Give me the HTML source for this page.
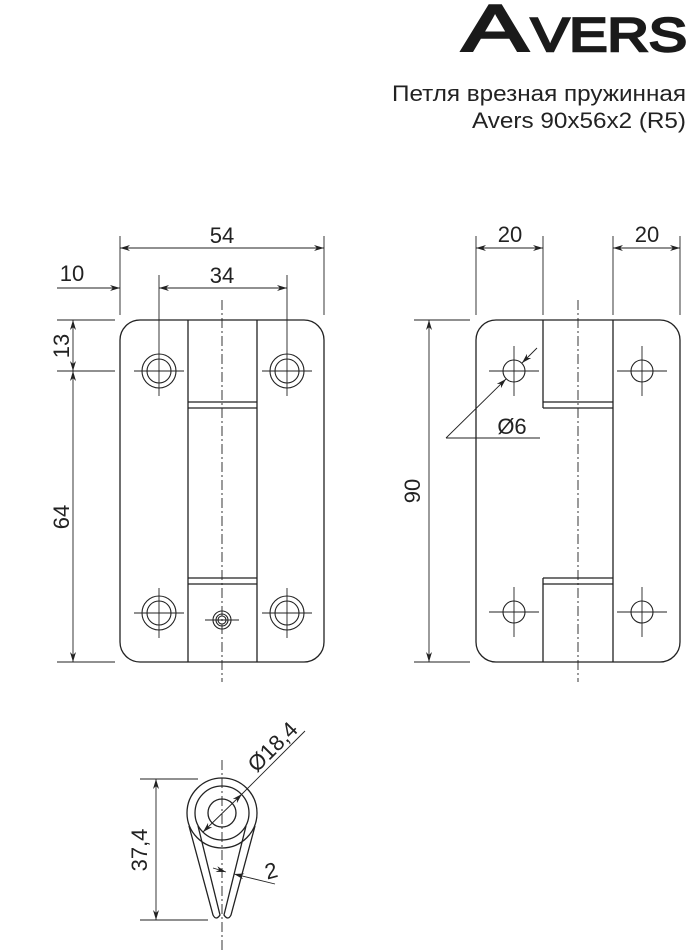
<!DOCTYPE html>
<html><head><meta charset="utf-8"><style>
html,body{margin:0;padding:0;background:#fff}
svg{display:block}
text{font-family:"Liberation Sans",sans-serif;fill:#222}
</style></head><body>
<svg width="698" height="952" viewBox="0 0 698 952" xmlns="http://www.w3.org/2000/svg">
<defs>
<marker id="a" viewBox="0 0 10 6" refX="10" refY="3" markerWidth="10" markerHeight="6" orient="auto-start-reverse" markerUnits="userSpaceOnUse">
<path d="M0,0 L10,3 L0,6 L3,3 Z" fill="#222"/></marker>
</defs>
<!-- logo -->
<text x="462" y="51" font-size="66" textLength="66" lengthAdjust="spacingAndGlyphs" style="fill:#1a1a1a;stroke:#1a1a1a;stroke-width:2.5">A</text>
<text x="531" y="51" font-size="47" textLength="156" lengthAdjust="spacingAndGlyphs" style="fill:#1a1a1a;stroke:#1a1a1a;stroke-width:2.5">VERS</text>
<text x="686" y="101" font-size="22" text-anchor="end" textLength="294" lengthAdjust="spacingAndGlyphs">Петля врезная пружинная</text>
<text x="686" y="128" font-size="22" text-anchor="end" textLength="214" lengthAdjust="spacingAndGlyphs">Avers 90x56x2 (R5)</text>

<g stroke="#222" stroke-width="1.3" fill="none">
<rect x="120" y="320" width="204" height="342" rx="20"/>
<line x1="188" y1="320" x2="188" y2="662"/>
<line x1="257" y1="320" x2="257" y2="662"/>
<line x1="188" y1="402" x2="257" y2="402"/><line x1="188" y1="408" x2="257" y2="408"/>
<line x1="188" y1="578" x2="257" y2="578"/><line x1="188" y1="584" x2="257" y2="584"/>
<line x1="222" y1="300" x2="222" y2="682" stroke-width="0.9" stroke-dasharray="10,3,2,3"/>
<g stroke-width="1.1">
<circle cx="159" cy="371" r="17"/><circle cx="159" cy="371" r="12"/>
<circle cx="287" cy="371" r="17"/><circle cx="287" cy="371" r="12"/>
<circle cx="159" cy="613" r="17"/><circle cx="159" cy="613" r="12"/>
<circle cx="287" cy="613" r="17"/><circle cx="287" cy="613" r="12"/>
<circle cx="222" cy="620" r="9"/><circle cx="222" cy="620" r="6"/><circle cx="222" cy="620" r="4"/>
</g>
<g stroke-width="0.9">
<line x1="134" y1="371" x2="184" y2="371"/><line x1="159" y1="275" x2="159" y2="396"/>
<line x1="262" y1="371" x2="312" y2="371"/><line x1="287" y1="275" x2="287" y2="396"/>
<line x1="134" y1="613" x2="184" y2="613"/><line x1="159" y1="588" x2="159" y2="638"/>
<line x1="262" y1="613" x2="312" y2="613"/><line x1="287" y1="588" x2="287" y2="638"/>
<line x1="205" y1="620" x2="239" y2="620"/>
<line x1="120" y1="236" x2="120" y2="315"/><line x1="324" y1="236" x2="324" y2="315"/>
<line x1="120" y1="248" x2="324" y2="248" marker-start="url(#a)" marker-end="url(#a)"/>
<line x1="57" y1="288" x2="120" y2="288" marker-end="url(#a)"/>
<line x1="159" y1="288" x2="287" y2="288" marker-start="url(#a)" marker-end="url(#a)"/>
<line x1="57" y1="320" x2="115" y2="320"/><line x1="57" y1="371" x2="115" y2="371"/><line x1="57" y1="662" x2="115" y2="662"/>
<line x1="73" y1="320" x2="73" y2="371" marker-start="url(#a)" marker-end="url(#a)"/>
<line x1="73" y1="371" x2="73" y2="662" marker-start="url(#a)" marker-end="url(#a)"/>
</g>

<rect x="476" y="320" width="204" height="342" rx="20"/>
<line x1="613" y1="320" x2="613" y2="662"/>
<line x1="543" y1="320" x2="543" y2="408"/>
<line x1="543" y1="402" x2="613" y2="402"/><line x1="543" y1="408" x2="613" y2="408"/>
<line x1="543" y1="578" x2="543" y2="662"/>
<line x1="543" y1="578" x2="613" y2="578"/><line x1="543" y1="584" x2="613" y2="584"/>
<line x1="578" y1="300" x2="578" y2="682" stroke-width="0.9" stroke-dasharray="10,3,2,3"/>
<g stroke-width="1.1">
<circle cx="514" cy="371" r="11"/><circle cx="642" cy="371" r="11"/>
<circle cx="514" cy="612" r="11"/><circle cx="642" cy="612" r="11"/>
</g>
<g stroke-width="0.9">
<line x1="489" y1="371" x2="539" y2="371"/><line x1="514" y1="346" x2="514" y2="396"/>
<line x1="617" y1="371" x2="667" y2="371"/><line x1="642" y1="346" x2="642" y2="396"/>
<line x1="489" y1="612" x2="539" y2="612"/><line x1="514" y1="587" x2="514" y2="637"/>
<line x1="617" y1="612" x2="667" y2="612"/><line x1="642" y1="587" x2="642" y2="637"/>
<line x1="446" y1="438" x2="506" y2="379" marker-end="url(#a)"/>
<line x1="446" y1="438" x2="540" y2="438"/>
<line x1="537" y1="348" x2="522" y2="363" marker-end="url(#a)"/>
<line x1="476" y1="236" x2="476" y2="315"/><line x1="543" y1="236" x2="543" y2="315"/>
<line x1="613" y1="236" x2="613" y2="315"/><line x1="680" y1="236" x2="680" y2="315"/>
<line x1="476" y1="248" x2="543" y2="248" marker-start="url(#a)" marker-end="url(#a)"/>
<line x1="613" y1="248" x2="680" y2="248" marker-start="url(#a)" marker-end="url(#a)"/>
<line x1="414" y1="320" x2="470" y2="320"/><line x1="414" y1="662" x2="470" y2="662"/>
<line x1="429" y1="320" x2="429" y2="662" marker-start="url(#a)" marker-end="url(#a)"/>
</g>

<circle cx="222" cy="813" r="35"/>
<circle cx="222" cy="813" r="27"/>
<circle cx="222" cy="813" r="14"/>
<path d="M189,826 L213,915 Q216,921 220,915 L198,826"/>
<path d="M255,826 L231,915 Q228,921 224,915 L246,826"/>
<line x1="222" y1="760" x2="222" y2="952" stroke-width="0.9" stroke-dasharray="10,3,2,3"/>
<g stroke-width="0.9">
<line x1="140" y1="779" x2="198" y2="779"/><line x1="140" y1="920" x2="208" y2="920"/>
<line x1="156" y1="779" x2="156" y2="920" marker-start="url(#a)" marker-end="url(#a)"/>
<line x1="203" y1="832" x2="242" y2="794" marker-start="url(#a)" marker-end="url(#a)"/>
<line x1="242" y1="794" x2="305" y2="731"/>
<line x1="213" y1="868" x2="226" y2="872" marker-end="url(#a)"/>
<line x1="275" y1="884" x2="234" y2="874" marker-end="url(#a)"/>
</g>
</g>

<g font-size="22">
<text x="222" y="243" text-anchor="middle">54</text>
<text x="72" y="281" text-anchor="middle">10</text>
<text x="222" y="283" text-anchor="middle">34</text>
<text transform="translate(69,346) rotate(-90)" text-anchor="middle">13</text>
<text transform="translate(69,517) rotate(-90)" text-anchor="middle">64</text>
<text x="510" y="242" text-anchor="middle">20</text>
<text x="647" y="242" text-anchor="middle">20</text>
<text x="512" y="434" text-anchor="middle">Ø6</text>
<text transform="translate(420,491) rotate(-90)" text-anchor="middle">90</text>
<text transform="translate(147,850) rotate(-90)" text-anchor="middle">37,4</text>
<text transform="translate(278,752) rotate(-45)" text-anchor="middle">Ø18,4</text>
<text transform="translate(273,878) rotate(-15)" text-anchor="middle">2</text>
</g>
</svg>
</body></html>
